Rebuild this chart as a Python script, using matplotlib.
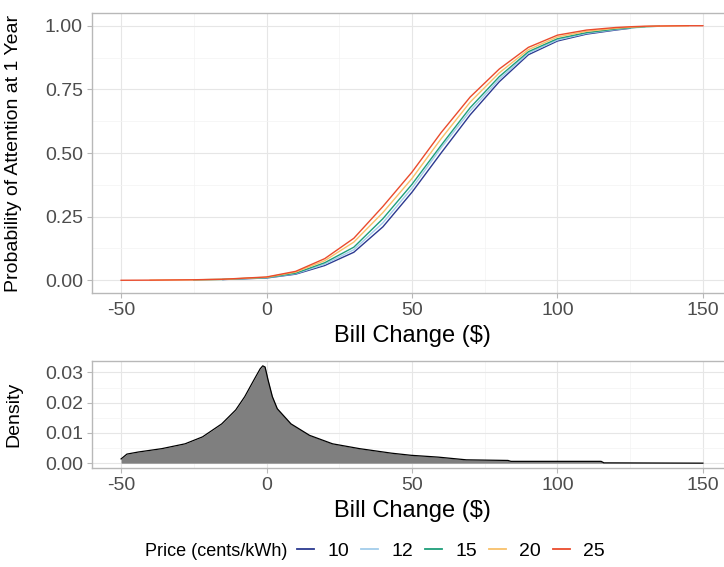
import matplotlib
matplotlib.use('Agg')
import matplotlib.pyplot as plt
import numpy as np
from matplotlib.lines import Line2D

plt.rcParams['font.family'] = ['Liberation Sans', 'DejaVu Sans']
plt.rcParams['axes.unicode_minus'] = False

# bill change grid ($) and probability of attention for each price
bill = [-50, -40, -25, -15, 0, 10, 20, 30, 40, 50, 60, 70, 80, 90, 100,
        110, 120, 125, 130, 135, 140, 145, 150]
p10 = [0, 0.0003, 0.0015, 0.003, 0.009, 0.024, 0.058, 0.11, 0.21, 0.346, 0.50,
       0.65, 0.78, 0.886, 0.94, 0.967, 0.983, 0.99, 0.994, 0.997, 0.999, 1.0, 1.0]
p12 = [0, 0.0004, 0.0016, 0.0032, 0.0098, 0.026, 0.063, 0.12, 0.226, 0.362, 0.52,
       0.665, 0.79, 0.892, 0.944, 0.970, 0.985, 0.991, 0.995, 0.997, 0.999, 1.0, 1.0]
p15 = [0, 0.0004, 0.0017, 0.0034, 0.0106, 0.028, 0.069, 0.13, 0.242, 0.377, 0.53,
       0.678, 0.80, 0.898, 0.949, 0.973, 0.987, 0.992, 0.996, 0.998, 0.999, 1.0, 1.0]
p20 = [0, 0.0004, 0.0019, 0.0037, 0.0118, 0.032, 0.077, 0.15, 0.266, 0.40, 0.556,
       0.70, 0.815, 0.906, 0.956, 0.978, 0.990, 0.994, 0.997, 0.998, 0.9993, 1.0, 1.0]
p25 = [0, 0.0005, 0.002, 0.004, 0.013, 0.035, 0.085, 0.165, 0.29, 0.425, 0.58,
       0.72, 0.83, 0.915, 0.963, 0.983, 0.993, 0.996, 0.998, 0.999, 0.9995, 1.0, 1.0]
prices = ['10', '12', '15', '20', '25']
probs = [p10, p12, p15, p20, p25]
x_start = [-15, -20, -25, -40, -50]
x_end = [125, 130, 135, 145, 150]
colors = ['#2B3990', '#A3CDEB', '#1E9E7A', '#F8C06A', '#EA4B2C']

# density of bill change
dens_x = [-50, -48, -44, -36, -28, -22, -15.4, -10.6, -7.5, -4.3, -2.2, -1.3, -0.5,
          0.5, 2, 3.7, 8.4, 14.8, 22.7, 32, 43, 49.7, 59, 68.7, 83, 84, 115, 116, 150]
dens_y = [0.0014, 0.003, 0.0037, 0.0048, 0.0064, 0.0087, 0.013, 0.0176, 0.022,
          0.0276, 0.0312, 0.0322, 0.0318, 0.0276, 0.022, 0.018, 0.013, 0.0092, 0.0064,
          0.0048, 0.0033, 0.0026, 0.002, 0.0011, 0.0009, 0.0006, 0.0006, 0.0001, 0.0]

W, H = 724, 567
fig = plt.figure(figsize=(W / 100, H / 100), dpi=100)

def px_axes(l, t, r, b):
    return fig.add_axes([l / W, 1 - b / H, (r - l) / W, (b - t) / H])

def style(ax):
    ax.set_facecolor('white')
    for s in ax.spines.values():
        s.set_color('#B8B8B8')
        s.set_linewidth(1.0)
    ax.grid(which='major', color='#E6E6E6', lw=0.8)
    ax.grid(which='minor', color='#F3F3F3', lw=0.5)
    ax.set_axisbelow(True)
    ax.tick_params(which='major', length=3.5, width=0.8, color='#B8B8B8',
                   labelsize=14, labelcolor='#4D4D4D', pad=3)
    ax.tick_params(which='minor', length=0)
    ax.set_xlim(-60, 160)
    ax.set_xticks([-50, 0, 50, 100, 150])
    ax.set_xticks([-25, 25, 75, 125], minor=True)
    ax.yaxis.set_label_coords(-(92 - 22) / (732 - 92), 0.5)

# top panel: probability curves
ax1 = px_axes(92, 13, 732, 293)
style(ax1)
bx = np.array(bill, dtype=float)
for lab, p, a, b, c in zip(prices, probs, x_start, x_end, colors):
    m = (bx >= a) & (bx <= b)
    ax1.plot(bx[m], np.array(p)[m], color=c, lw=1.0)
ax1.set_ylim(-0.05, 1.05)
ax1.set_yticks([0, 0.25, 0.5, 0.75, 1.0])
ax1.set_yticklabels(['0.00', '0.25', '0.50', '0.75', '1.00'])
ax1.set_yticks([0.125, 0.375, 0.625, 0.875], minor=True)
ax1.set_xlabel('Bill Change ($)', fontsize=17, labelpad=4)
ax1.set_ylabel('Probability of Attention at 1 Year', fontsize=14)

# bottom panel: density
ax2 = px_axes(92, 361, 732, 468)
style(ax2)
ax2.fill_between(dens_x, dens_y, 0, color='#7F7F7F', lw=0)
ax2.plot(dens_x, dens_y, color='black', lw=0.9)
ax2.set_ylim(-0.0016, 0.0338)
ax2.set_yticks([0, 0.01, 0.02, 0.03])
ax2.set_yticklabels(['0.00', '0.01', '0.02', '0.03'])
ax2.set_yticks([0.005, 0.015, 0.025], minor=True)
ax2.set_xlabel('Bill Change ($)', fontsize=17, labelpad=4)
ax2.set_ylabel('Density', fontsize=14)

handles = [Line2D([], [], color=c, lw=1.3) for c in colors]
fig.text(145 / W, 1 - 551 / H, 'Price (cents/kWh)', fontsize=13, va='center', ha='left')
fig.legend(handles, prices, loc='center left', bbox_to_anchor=(297 / W, 1 - 551 / H),
           ncol=5, frameon=False, fontsize=14, handlelength=0.88, handletextpad=0.67,
           columnspacing=0.62, borderaxespad=0, borderpad=0)

fig.savefig('out.png', dpi=100, facecolor='white')
